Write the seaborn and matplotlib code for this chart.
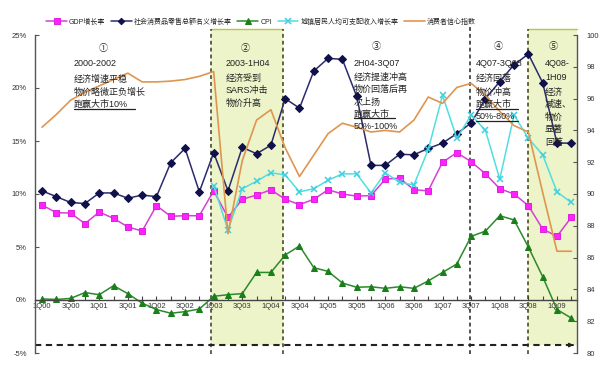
import numpy as np
import pandas as pd
import seaborn as sns
import matplotlib
matplotlib.use("Agg")
import matplotlib.pyplot as plt
from matplotlib.lines import Line2D
from matplotlib.patches import Rectangle

quarters = ["1Q00", "2Q00", "3Q00", "4Q00", "1Q01", "2Q01", "3Q01", "4Q01",
            "1Q02", "2Q02", "3Q02", "4Q02", "1Q03", "2Q03", "3Q03", "4Q03",
            "1Q04", "2Q04", "3Q04", "4Q04", "1Q05", "2Q05", "3Q05", "4Q05",
            "1Q06", "2Q06", "3Q06", "4Q06", "1Q07", "2Q07", "3Q07", "4Q07",
            "1Q08", "2Q08", "3Q08", "4Q08", "1Q09", "2Q09"]

gdp = [8.96, 8.24, 8.2, 7.2, 8.3, 7.7, 6.9, 6.5, 8.9, 7.9, 7.95, 7.95,
       10.3, 7.8, 9.5, 9.9, 10.4, 9.5, 9.0, 9.5, 10.4, 10.0, 9.8, 9.85,
       11.4, 11.5, 10.4, 10.3, 13.0, 13.9, 13.05, 11.9, 10.5, 10.0, 8.9, 6.7,
       6.0, 7.8]
retail = [10.3, 9.75, 9.2, 9.1, 10.1, 10.1, 9.6, 9.9, 9.75, 12.95, 14.3, 10.2,
          13.9, 10.3, 14.4, 13.8, 14.6, 19.0, 18.1, 21.6, 22.8, 22.7, 19.2, 12.7,
          12.7, 13.75, 13.7, 14.3, 14.8, 15.7, 16.7, 19.0, 20.6, 22.2, 23.2, 20.5,
          14.8, 14.8]
cpi = [0.1, 0.05, 0.15, 0.7, 0.5, 1.35, 0.6, -0.3, -0.9, -1.25, -1.1, -0.85,
       0.35, 0.5, 0.6, 2.6, 2.6, 4.25, 5.1, 3.05, 2.7, 1.6, 1.2, 1.25,
       1.1, 1.25, 1.1, 1.8, 2.6, 3.4, 6.0, 6.5, 7.95, 7.55, 5.0, 2.2,
       -0.9, -1.7]
income = [np.nan] * 12 + [10.8, 6.6, 10.5, 11.2, 12.0, 11.8, 10.2, 10.5, 11.3, 11.9,
                          11.9, 10.1, 12.0, 11.1, 10.85, 14.2, 19.3, 15.25, 17.45, 16.0,
                          11.4, 17.45, 15.25, 13.7, 10.2, 9.2]
confidence = [94.2, 95.0, 95.9, 96.4, 96.8, 97.2, 97.6, 97.05, 97.05, 97.1, 97.2, 97.4,
              97.7, 87.5, 92.1, 94.65, 95.3, 92.9, 91.1, 92.45, 93.8, 94.45, 94.2, 93.9,
              94.0, 93.9, 94.65, 96.1, 95.7, 96.7, 96.96, 96.2, 95.2, 94.3, 93.9, 90.1,
              86.4, 86.4]

series_names = ["GDP增长率", "社会消费品零售总额名义增长率", "CPI",
                "城镇居民人均可支配收入增长率", "消费者信心指数"]
left_ticks = [-5, 0, 5, 10, 15, 20, 25]
right_ticks = [80, 82, 84, 86, 88, 90, 92, 94, 96, 98, 100]

sns.set_theme(style="white")
plt.rcParams["font.family"] = ["Liberation Sans", "Noto Sans CJK SC"]

W, H = 603, 368
fig = plt.figure(figsize=(W / 100, H / 100), dpi=100)
ax = fig.add_axes([35 / W, 1 - 353 / H, (577 - 35) / W, (353 - 35) / H])
ax2 = ax.twinx()

df = pd.DataFrame({"idx": np.arange(len(quarters)), "gdp": gdp, "retail": retail,
                   "cpi": cpi, "income": income, "conf": confidence})

def px(x, y):
    return x / W, 1 - y / H

# shaded periods
ax.add_patch(Rectangle((11.8, -4.25), 16.85 - 11.8, 25.6 + 4.25, facecolor="#edf4c9",
                       edgecolor="none", zorder=0, clip_on=False))
ax.add_patch(Rectangle((34.0, -4.25), 37.4 - 34.0, 25.6 + 4.25, facecolor="#edf4c9",
                       edgecolor="none", zorder=0, clip_on=False))
for (a, b) in [(11.8, 16.85), (34.0, 37.4)]:
    ax.plot([a, b], [25.6, 25.6], color="#b9c64e", lw=1.0, clip_on=False, zorder=1)
for xv in [11.8, 16.85, 34.0]:
    ax.plot([xv, xv], [-5.1, 25.6], color="#3b3b18", lw=1.1, ls=(0, (2.5, 2)),
            clip_on=False, zorder=1)
ax.plot([29.9, 29.9], [-5.1, 25.9], color="#222222", lw=1.1, ls=(0, (2.5, 2)),
        clip_on=False, zorder=1)
ax.plot([-0.49, 37.15], [-4.25, -4.25], color="#222222", lw=1.5, ls=(0, (3, 2.2)),
        clip_on=False, zorder=1)
ax.annotate("", xy=(37.35, -4.25), xytext=(36.9, -4.25),
            arrowprops=dict(arrowstyle="-|>", color="#222222", lw=1.0, mutation_scale=6),
            annotation_clip=False)

kw = dict(markersize=4.2, linewidth=1.1)
sns.lineplot(data=df, x="idx", y="gdp", ax=ax, color="#d63fd6", marker="s",
             markerfacecolor="#ff22ff", markeredgecolor="#dd22dd", label=series_names[0], **kw)
sns.lineplot(data=df, x="idx", y="retail", ax=ax, color="#2b2b6e", marker="D",
             markerfacecolor="#10104a", markeredgecolor="#10104a", label=series_names[1],
             markersize=3.6, linewidth=1.1)
sns.lineplot(data=df, x="idx", y="cpi", ax=ax, color="#2b8a2b", marker="^",
             markerfacecolor="#1a7f1a", markeredgecolor="#1a7f1a", label=series_names[2], **kw)
sns.lineplot(data=df.dropna(subset=["income"]), x="idx", y="income", ax=ax, color="#52dede",
             marker="x", markeredgecolor="#3fd0e0", markeredgewidth=1.1,
             label=series_names[3], **kw)
sns.lineplot(data=df, x="idx", y="conf", ax=ax2, color="#e0954f", linewidth=1.2,
             label=series_names[4])

h1, l1 = ax.get_legend_handles_labels()
h2, l2 = ax2.get_legend_handles_labels()
for a in (ax, ax2):
    if a.get_legend() is not None:
        a.get_legend().remove()

fig.legend(h1 + h2, l1 + l2, loc="center", bbox_to_anchor=(261 / W, 1 - 22 / H),
           ncol=5, frameon=False, fontsize=5.0, handlelength=3.0, handletextpad=0.3,
           columnspacing=0.8, borderpad=0, markerscale=0.9)

ax.set_xlim(-0.49, 37.4)
ax.set_ylim(-5, 25)
ax2.set_ylim(80, 100)
ax.set_xlabel("")
ax.set_ylabel("")
ax2.set_ylabel("")

ax.set_yticks(left_ticks)
ax.set_yticklabels([f"{v}%" for v in left_ticks])
ax.set_xticks(np.arange(0, len(quarters), 2))
ax.set_xticklabels(quarters[::2])
ax.set_xticks(np.arange(len(quarters)), minor=True)
ax2.set_yticks(right_ticks)

ax.spines["top"].set_visible(False)
ax.spines["right"].set_visible(False)
ax.spines["bottom"].set_position(("data", 0))
ax.spines["bottom"].set_color("#444444")
ax.spines["left"].set_color("#555555")
ax2.spines["top"].set_visible(False)
ax2.spines["left"].set_visible(False)
ax2.spines["bottom"].set_visible(False)
ax2.spines["right"].set_color("#555555")
for s in ["left", "bottom"]:
    ax.spines[s].set_linewidth(1.0)
ax2.spines["right"].set_linewidth(1.0)

ax.tick_params(axis="y", left=True, direction="in", length=3, width=0.8,
               labelsize=5.5, labelcolor="#333333", pad=6, color="#555555")
ax.tick_params(axis="x", which="both", bottom=True, direction="in", length=3, width=0.8,
               labelsize=5.5, labelcolor="#333333", pad=2, color="#444444")
ax2.tick_params(axis="y", right=True, direction="in", length=3, width=0.8,
                labelsize=5.5, labelcolor="#333333", pad=7, color="#555555")
ax.grid(False)
ax2.grid(False)

# annotations
fs = 6.5
tc = "#222222"
notes = [
    ("①", 103, 48, "center"), ("2000-2002", 74, 64, "left"), ("经济增速平稳", 74, 79, "left"),
    ("物价略微正负增长", 74, 92, "left"), ("跑赢大市10%", 74, 104, "left"),
    ("②", 245, 48, "center"), ("2003-1H04", 226, 64, "left"), ("经济受到", 226, 78, "left"),
    ("SARS冲击", 226, 91, "left"), ("物价升高", 226, 103, "left"),
    ("③", 376, 46, "center"), ("2H04-3Q07", 354, 63, "left"), ("经济提速冲高", 354, 77, "left"),
    ("物价回落后再", 354, 89, "left"), ("次上扬", 354, 102, "left"), ("跑赢大市", 354, 114, "left"),
    ("50%-100%", 354, 127, "left"),
    ("④", 498, 47, "center"), ("4Q07-3Q08", 476, 64, "left"), ("经济回落", 476, 78, "left"),
    ("物价冲高", 476, 92, "left"), ("跑赢大市", 476, 104, "left"), ("50%-80%", 476, 116, "left"),
    ("⑤", 553, 47, "center"), ("4Q08-", 545, 64, "left"), ("1H09", 545, 77, "left"),
    ("经济", 545, 92, "left"), ("减速、", 545, 104, "left"), ("物价", 545, 117, "left"),
    ("显著", 545, 129, "left"), ("回落", 545, 142, "left"),
]
for t, x, y, ha in notes:
    fx, fy = px(x, y)
    fig.text(fx, fy, t, fontsize=fs, color=tc, ha=ha, va="center", zorder=5)

underlines = [(74, 135, 109), (354, 395, 118), (476, 518, 109), (476, 518, 121)]
for x0, x1, y in underlines:
    a0 = px(x0, y)
    a1 = px(x1, y)
    fig.add_artist(Line2D([a0[0], a1[0]], [a0[1], a1[1]], color="#222222", lw=0.9))

fig.savefig("out.png", dpi=100, facecolor="white")
